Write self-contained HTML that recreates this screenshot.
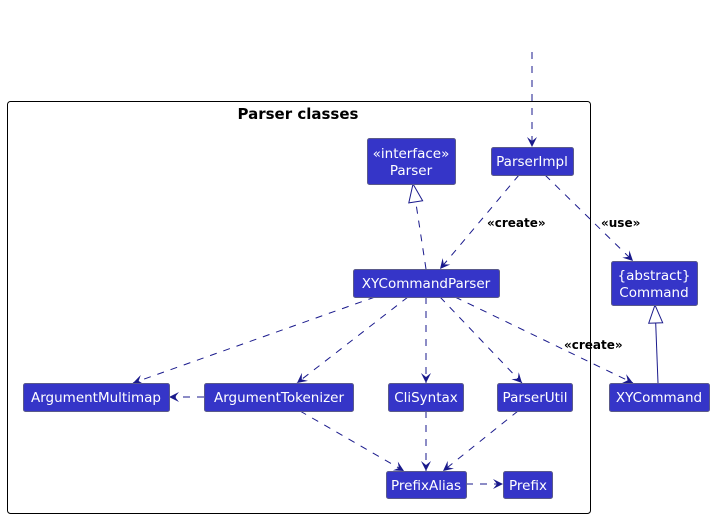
<!DOCTYPE html>
<html><head><meta charset="utf-8"><style>
html,body{margin:0;padding:0;background:#fff;width:715px;height:518px;overflow:hidden}
svg{display:block}
.b{fill:#3535c8;stroke:#5a5a8a;stroke-width:1}
.t{fill:#fff;font-family:"DejaVu Sans","Liberation Sans",sans-serif;font-size:13.5px;text-anchor:middle}
.d{stroke:#1a1a8c;stroke-width:1;stroke-dasharray:7,7;fill:none}
.s{stroke:#1a1a8c;stroke-width:1;fill:none}
.l{font-family:"DejaVu Sans","Liberation Sans",sans-serif;font-size:12px;font-weight:bold;fill:#000}
</style></head><body>
<svg width="715" height="518" viewBox="0 0 715 518">
<defs>
<marker id="a" viewBox="0 0 12 12" refX="11" refY="6" markerWidth="12" markerHeight="12" orient="auto" markerUnits="userSpaceOnUse">
<path d="M1,1 L11,6 L1,11 L5,6 Z" fill="#1a1a8c"/></marker>
<marker id="h" viewBox="0 0 20 20" refX="19" refY="10" markerWidth="20" markerHeight="20" orient="auto" markerUnits="userSpaceOnUse">
<path d="M1,3 L19,10 L1,17 Z" fill="#fff" stroke="#1a1a8c"/></marker>
</defs>
<rect x="7.5" y="101.5" width="583" height="412" rx="3" fill="none" stroke="#000" stroke-width="1"/>
<text x="298" y="119" style="font-family:'DejaVu Sans','Liberation Sans',sans-serif;font-size:15px;font-weight:bold" text-anchor="middle">Parser classes</text>

<line class="d" x1="532" y1="52" x2="532" y2="147" marker-end="url(#a)"/>
<line class="d" x1="426" y1="269" x2="413" y2="184" marker-end="url(#h)"/>
<line class="d" x1="519" y1="175" x2="440" y2="269" marker-end="url(#a)"/>
<line class="d" x1="545" y1="175" x2="633" y2="261" marker-end="url(#a)"/>
<line class="s" x1="658" y1="383" x2="655" y2="305" marker-end="url(#h)"/>
<line class="d" x1="375" y1="297" x2="133" y2="383" marker-end="url(#a)"/>
<line class="d" x1="408" y1="297" x2="297" y2="383" marker-end="url(#a)"/>
<line class="d" x1="426" y1="297" x2="426" y2="383" marker-end="url(#a)"/>
<line class="d" x1="440" y1="297" x2="522" y2="383" marker-end="url(#a)"/>
<line class="d" x1="455" y1="297" x2="633" y2="383" marker-end="url(#a)"/>
<line class="d" x1="204" y1="397" x2="169" y2="397" marker-end="url(#a)"/>
<line class="d" x1="300" y1="411" x2="404" y2="471" marker-end="url(#a)"/>
<line class="d" x1="426" y1="411" x2="426" y2="471" marker-end="url(#a)"/>
<line class="d" x1="518" y1="411" x2="443" y2="471" marker-end="url(#a)"/>
<line class="d" x1="466" y1="484" x2="503" y2="484" marker-end="url(#a)"/>

<text class="l" x="487" y="227">«create»</text>
<text class="l" x="601" y="227">«use»</text>
<text class="l" x="564" y="349">«create»</text>

<rect class="b" x="367.5" y="138.5" width="88" height="46" rx="2"/>
<text class="t" x="411" y="158">«interface»</text><text class="t" x="411" y="175">Parser</text>
<rect class="b" x="491.5" y="147.5" width="82" height="28" rx="2"/>
<text class="t" x="532" y="166">ParserImpl</text>
<rect class="b" x="353.5" y="269.5" width="146" height="28" rx="2"/>
<text class="t" x="426" y="288">XYCommandParser</text>
<rect class="b" x="611.5" y="261.5" width="86" height="44" rx="2"/>
<text class="t" x="654" y="280">{abstract}</text><text class="t" x="654" y="297">Command</text>
<rect class="b" x="23.5" y="383.5" width="146" height="28" rx="2"/>
<text class="t" x="96" y="402">ArgumentMultimap</text>
<rect class="b" x="204.5" y="383.5" width="149" height="28" rx="2"/>
<text class="t" x="279" y="402">ArgumentTokenizer</text>
<rect class="b" x="388.5" y="383.5" width="75" height="28" rx="2"/>
<text class="t" x="426" y="402">CliSyntax</text>
<rect class="b" x="497.5" y="383.5" width="75" height="28" rx="2"/>
<text class="t" x="535" y="402">ParserUtil</text>
<rect class="b" x="609.5" y="383.5" width="100" height="28" rx="2"/>
<text class="t" x="659" y="402">XYCommand</text>
<rect class="b" x="386.5" y="471.5" width="80" height="27" rx="2"/>
<text class="t" x="426" y="490">PrefixAlias</text>
<rect class="b" x="503.5" y="471.5" width="49" height="27" rx="2"/>
<text class="t" x="528" y="490">Prefix</text>
</svg>
</body></html>
